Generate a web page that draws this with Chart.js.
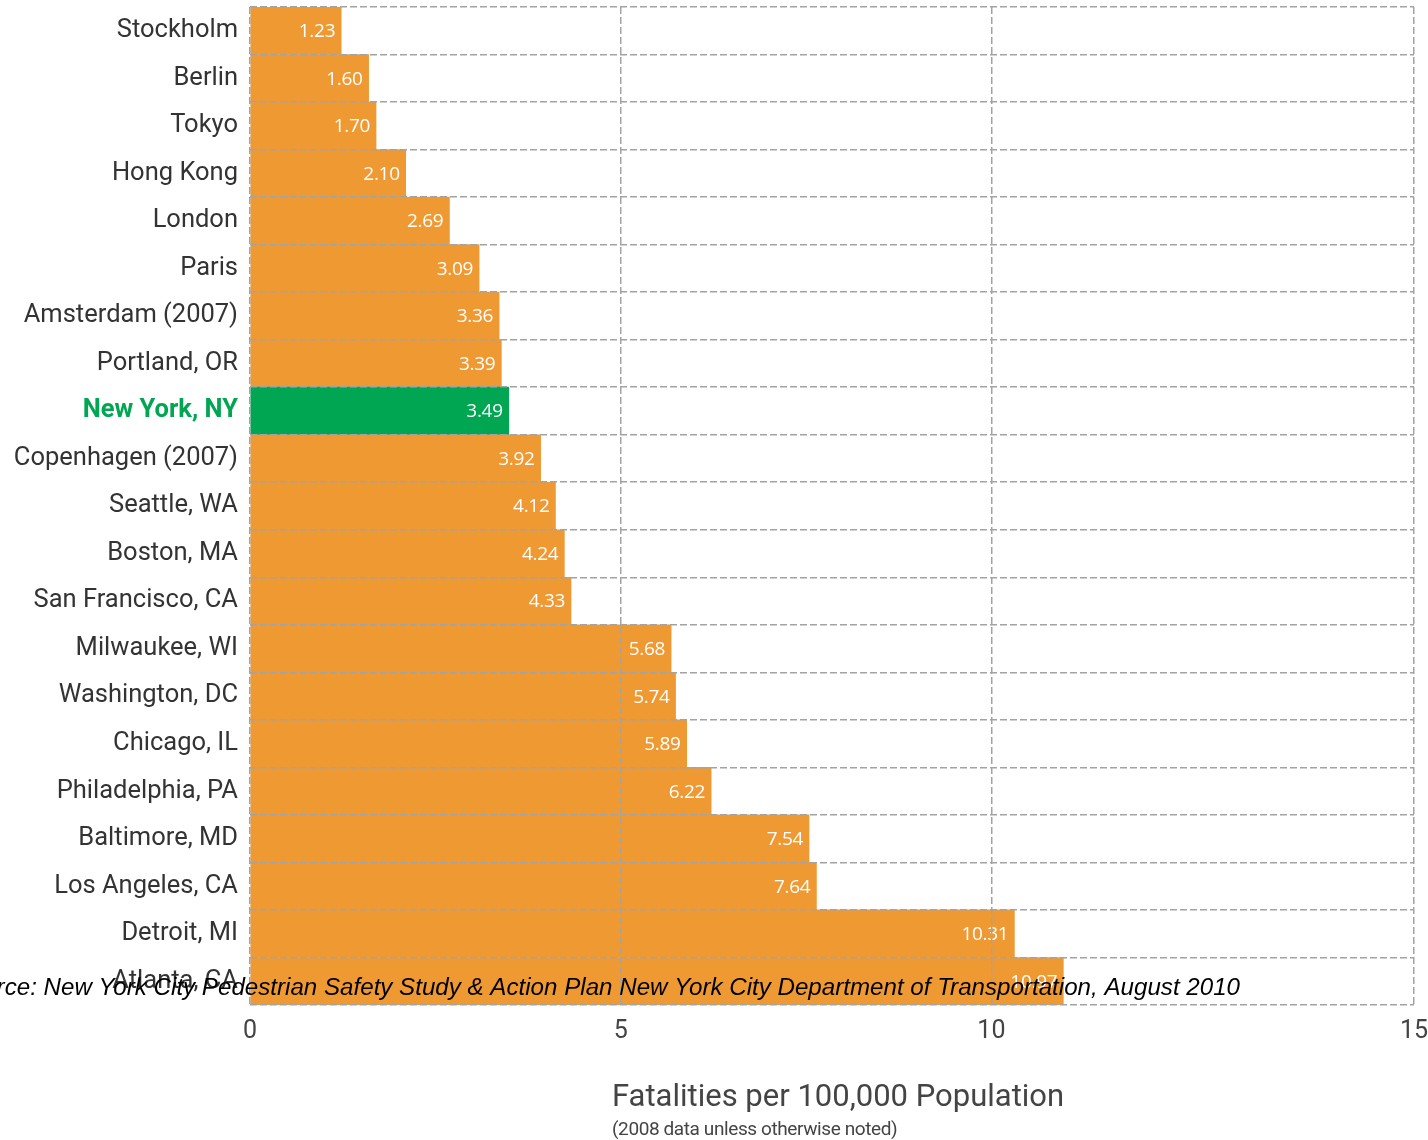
<!DOCTYPE html>
<html>
<head>
<meta charset="utf-8">
<script src="https://cdn.jsdelivr.net/npm/chart.js@4.4.1/dist/chart.umd.min.js"></script>
<style>
  html, body { margin: 0; padding: 0; background: #fff; }
  #wrap { width: 1428px; height: 1140px; position: relative; }
</style>
</head>
<body>
<div id="wrap"><canvas id="fatalityChart"></canvas></div>
<script>
// Pedestrian fatalities per 100,000 population, by city
const cities = [
  'Stockholm', 'Berlin', 'Tokyo', 'Hong Kong', 'London', 'Paris',
  'Amsterdam (2007)', 'Portland, OR', 'New York, NY', 'Copenhagen (2007)',
  'Seattle, WA', 'Boston, MA', 'San Francisco, CA', 'Milwaukee, WI',
  'Washington, DC', 'Chicago, IL', 'Philadelphia, PA', 'Baltimore, MD',
  'Los Angeles, CA', 'Detroit, MI', 'Atlanta, CA'
];
const fatalities = [
  1.23, 1.60, 1.70, 2.10, 2.69, 3.09,
  3.36, 3.39, 3.49, 3.92,
  4.12, 4.24, 4.33, 5.68,
  5.74, 5.89, 6.22, 7.54,
  7.64, 10.31, 10.97
];
const highlightCity = 'New York, NY';

// x axis: gridlines at these values, right edge labelled "15"
const xTickValues = [0, 5, 10, 15.7];
const xTickLabels = ['0', '5', '10', '15'];

const axisTitle = 'Fatalities per 100,000 Population';
const axisSubtitle = '(2008 data unless otherwise noted)';
const sourceNote = 'Source: New York City Pedestrian Safety Study & Action Plan New York City Department of Transportation, August 2010';

const ORANGE = '#EF9933';
const GREEN = '#00A651';
const GRID = '#a3a3a3';
const GRID_DASH = [7, 3];

const barColors = cities.map(c => c === highlightCity ? GREEN : ORANGE);

// white value labels at the end of each bar
const valueLabels = {
  id: 'valueLabels',
  afterDatasetsDraw(chart) {
    const ctx = chart.ctx;
    const meta = chart.getDatasetMeta(0);
    ctx.save();
    ctx.fillStyle = '#fff';
    ctx.font = '19px "Open Sans", sans-serif';
    ctx.letterSpacing = '-0.3px';
    ctx.textAlign = 'right';
    ctx.textBaseline = 'middle';
    meta.data.forEach((bar, i) => {
      ctx.fillText(fatalities[i].toFixed(2), bar.x - 6, bar.y + 1);
    });
    ctx.restore();
  }
};

// axis title, subtitle and source line
const extraText = {
  id: 'extraText',
  afterDraw(chart) {
    const ctx = chart.ctx;
    ctx.save();
    ctx.textBaseline = 'middle';
    ctx.fillStyle = '#444';
    ctx.font = '31px Roboto, sans-serif';
    ctx.textAlign = 'left';
    const left = 612;
    ctx.fillText(axisTitle, left, 1098);
    ctx.font = '19px Roboto, sans-serif';
    ctx.letterSpacing = '-0.4px';
    ctx.fillText(axisSubtitle, left, 1130);

    ctx.letterSpacing = '0px';
    ctx.fillStyle = '#000';
    ctx.font = 'italic 24.15px "Liberation Sans", Arial, sans-serif';
    ctx.textAlign = 'right';
    ctx.fillText(sourceNote, 1240, 988);
    ctx.restore();
  }
};

const ctx = document.getElementById('fatalityChart');
new Chart(ctx, {
  type: 'bar',
  data: {
    labels: cities,
    datasets: [{
      data: fatalities,
      backgroundColor: barColors,
      borderWidth: 0,
      barPercentage: 1.0,
      categoryPercentage: 1.0
    }]
  },
  options: {
    indexAxis: 'y',
    responsive: true,
    maintainAspectRatio: false,
    animation: false,
    layout: {
      padding: { left: 10, right: 14, top: 7, bottom: 85 }
    },
    plugins: {
      legend: { display: false },
      tooltip: { enabled: false }
    },
    scales: {
      x: {
        min: 0,
        max: xTickValues[xTickValues.length - 1],
        afterBuildTicks(axis) {
          axis.ticks = xTickValues.map(v => ({ value: v }));
        },
        afterFit(axis) {
          axis.height = 50;
          axis.paddingLeft = 0;
          axis.paddingRight = 0;
        },
        ticks: {
          color: '#444',
          font: { family: 'Roboto, sans-serif', size: 25 },
          padding: 12,
          maxRotation: 0,
          callback: (value) => xTickLabels[xTickValues.indexOf(value)]
        },
        grid: {
          z: 1,
          color: GRID,
          lineWidth: 1.5,
          drawTicks: false
        },
        border: { display: false, dash: GRID_DASH }
      },
      y: {
        afterFit(axis) {
          axis.width = 240;
          axis.paddingTop = 0;
          axis.paddingBottom = 0;
        },
        ticks: {
          padding: 12,
          color: (c) => cities[c.index] === highlightCity ? GREEN : '#333',
          font: (c) => ({
            family: 'Roboto, sans-serif',
            size: 25.5,
            weight: cities[c.index] === highlightCity ? 'bold' : 'normal'
          })
        },
        grid: {
          z: 1,
          offset: true,
          color: GRID,
          lineWidth: 1.5,
          drawTicks: false
        },
        border: { display: false, dash: GRID_DASH }
      }
    }
  },
  plugins: [valueLabels, extraText]
});
</script>
</body>
</html>
